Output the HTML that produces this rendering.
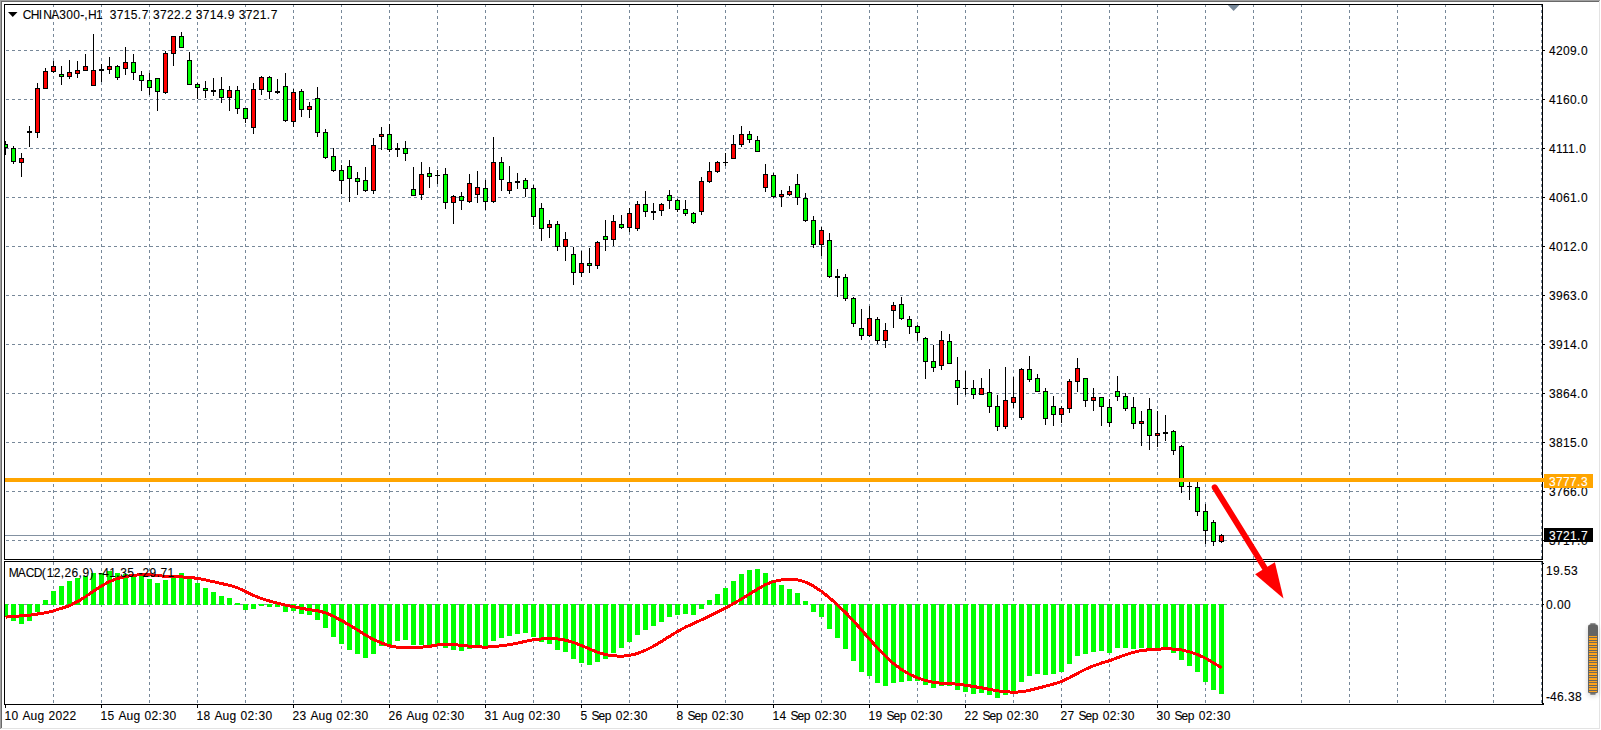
<!DOCTYPE html><html><head><meta charset="utf-8"><title>CHINA300</title><style>
html,body{margin:0;padding:0;background:#fff;}body{width:1601px;height:730px;overflow:hidden;position:relative;font-family:"Liberation Sans",sans-serif;font-size:12px;color:#000;}
svg{position:absolute;left:0;top:0;}
.t{position:absolute;white-space:nowrap;line-height:14px;height:14px;font-size:12px;-webkit-text-stroke:0.1px currentColor;}
.d{letter-spacing:0.5px}.u{letter-spacing:-0.45px}.l{letter-spacing:0px}
</style></head><body>
<svg width="1601" height="730" viewBox="0 0 1601 730">
<rect x="0" y="0" width="1601" height="730" fill="#fff"/>
<g shape-rendering="crispEdges">
<rect x="0" y="0" width="1600" height="1" fill="#a0a0a0"/>
<rect x="0" y="0" width="1" height="729" fill="#a0a0a0"/>
<rect x="1" y="1" width="1598" height="1" fill="#696969"/>
<rect x="1" y="1" width="1" height="727" fill="#696969"/>
<rect x="1599" y="1" width="1" height="728" fill="#e3e3e3"/>
<rect x="1" y="728" width="1599" height="1" fill="#e3e3e3"/>
</g>
<g shape-rendering="crispEdges" stroke="#778899" stroke-width="1" fill="none">
<line x1="53.5" y1="4" x2="53.5" y2="559" stroke-dasharray="3 3"/>
<line x1="53.5" y1="562" x2="53.5" y2="704" stroke-dasharray="3 3"/>
<line x1="101.5" y1="4" x2="101.5" y2="559" stroke-dasharray="3 3"/>
<line x1="101.5" y1="562" x2="101.5" y2="704" stroke-dasharray="3 3"/>
<line x1="149.5" y1="4" x2="149.5" y2="559" stroke-dasharray="3 3"/>
<line x1="149.5" y1="562" x2="149.5" y2="704" stroke-dasharray="3 3"/>
<line x1="197.5" y1="4" x2="197.5" y2="559" stroke-dasharray="3 3"/>
<line x1="197.5" y1="562" x2="197.5" y2="704" stroke-dasharray="3 3"/>
<line x1="245.5" y1="4" x2="245.5" y2="559" stroke-dasharray="3 3"/>
<line x1="245.5" y1="562" x2="245.5" y2="704" stroke-dasharray="3 3"/>
<line x1="293.5" y1="4" x2="293.5" y2="559" stroke-dasharray="3 3"/>
<line x1="293.5" y1="562" x2="293.5" y2="704" stroke-dasharray="3 3"/>
<line x1="341.5" y1="4" x2="341.5" y2="559" stroke-dasharray="3 3"/>
<line x1="341.5" y1="562" x2="341.5" y2="704" stroke-dasharray="3 3"/>
<line x1="389.5" y1="4" x2="389.5" y2="559" stroke-dasharray="3 3"/>
<line x1="389.5" y1="562" x2="389.5" y2="704" stroke-dasharray="3 3"/>
<line x1="437.5" y1="4" x2="437.5" y2="559" stroke-dasharray="3 3"/>
<line x1="437.5" y1="562" x2="437.5" y2="704" stroke-dasharray="3 3"/>
<line x1="485.5" y1="4" x2="485.5" y2="559" stroke-dasharray="3 3"/>
<line x1="485.5" y1="562" x2="485.5" y2="704" stroke-dasharray="3 3"/>
<line x1="533.5" y1="4" x2="533.5" y2="559" stroke-dasharray="3 3"/>
<line x1="533.5" y1="562" x2="533.5" y2="704" stroke-dasharray="3 3"/>
<line x1="581.5" y1="4" x2="581.5" y2="559" stroke-dasharray="3 3"/>
<line x1="581.5" y1="562" x2="581.5" y2="704" stroke-dasharray="3 3"/>
<line x1="629.5" y1="4" x2="629.5" y2="559" stroke-dasharray="3 3"/>
<line x1="629.5" y1="562" x2="629.5" y2="704" stroke-dasharray="3 3"/>
<line x1="677.5" y1="4" x2="677.5" y2="559" stroke-dasharray="3 3"/>
<line x1="677.5" y1="562" x2="677.5" y2="704" stroke-dasharray="3 3"/>
<line x1="725.5" y1="4" x2="725.5" y2="559" stroke-dasharray="3 3"/>
<line x1="725.5" y1="562" x2="725.5" y2="704" stroke-dasharray="3 3"/>
<line x1="773.5" y1="4" x2="773.5" y2="559" stroke-dasharray="3 3"/>
<line x1="773.5" y1="562" x2="773.5" y2="704" stroke-dasharray="3 3"/>
<line x1="821.5" y1="4" x2="821.5" y2="559" stroke-dasharray="3 3"/>
<line x1="821.5" y1="562" x2="821.5" y2="704" stroke-dasharray="3 3"/>
<line x1="869.5" y1="4" x2="869.5" y2="559" stroke-dasharray="3 3"/>
<line x1="869.5" y1="562" x2="869.5" y2="704" stroke-dasharray="3 3"/>
<line x1="917.5" y1="4" x2="917.5" y2="559" stroke-dasharray="3 3"/>
<line x1="917.5" y1="562" x2="917.5" y2="704" stroke-dasharray="3 3"/>
<line x1="965.5" y1="4" x2="965.5" y2="559" stroke-dasharray="3 3"/>
<line x1="965.5" y1="562" x2="965.5" y2="704" stroke-dasharray="3 3"/>
<line x1="1013.5" y1="4" x2="1013.5" y2="559" stroke-dasharray="3 3"/>
<line x1="1013.5" y1="562" x2="1013.5" y2="704" stroke-dasharray="3 3"/>
<line x1="1061.5" y1="4" x2="1061.5" y2="559" stroke-dasharray="3 3"/>
<line x1="1061.5" y1="562" x2="1061.5" y2="704" stroke-dasharray="3 3"/>
<line x1="1109.5" y1="4" x2="1109.5" y2="559" stroke-dasharray="3 3"/>
<line x1="1109.5" y1="562" x2="1109.5" y2="704" stroke-dasharray="3 3"/>
<line x1="1157.5" y1="4" x2="1157.5" y2="559" stroke-dasharray="3 3"/>
<line x1="1157.5" y1="562" x2="1157.5" y2="704" stroke-dasharray="3 3"/>
<line x1="1205.5" y1="4" x2="1205.5" y2="559" stroke-dasharray="3 3"/>
<line x1="1205.5" y1="562" x2="1205.5" y2="704" stroke-dasharray="3 3"/>
<line x1="1253.5" y1="4" x2="1253.5" y2="559" stroke-dasharray="3 3"/>
<line x1="1253.5" y1="562" x2="1253.5" y2="704" stroke-dasharray="3 3"/>
<line x1="1301.5" y1="4" x2="1301.5" y2="559" stroke-dasharray="3 3"/>
<line x1="1301.5" y1="562" x2="1301.5" y2="704" stroke-dasharray="3 3"/>
<line x1="1349.5" y1="4" x2="1349.5" y2="559" stroke-dasharray="3 3"/>
<line x1="1349.5" y1="562" x2="1349.5" y2="704" stroke-dasharray="3 3"/>
<line x1="1397.5" y1="4" x2="1397.5" y2="559" stroke-dasharray="3 3"/>
<line x1="1397.5" y1="562" x2="1397.5" y2="704" stroke-dasharray="3 3"/>
<line x1="1445.5" y1="4" x2="1445.5" y2="559" stroke-dasharray="3 3"/>
<line x1="1445.5" y1="562" x2="1445.5" y2="704" stroke-dasharray="3 3"/>
<line x1="1493.5" y1="4" x2="1493.5" y2="559" stroke-dasharray="3 3"/>
<line x1="1493.5" y1="562" x2="1493.5" y2="704" stroke-dasharray="3 3"/>
<line x1="1541.5" y1="4" x2="1541.5" y2="559" stroke-dasharray="3 3"/>
<line x1="1541.5" y1="562" x2="1541.5" y2="704" stroke-dasharray="3 3"/>
<line x1="6" y1="50.5" x2="1542" y2="50.5" stroke-dasharray="3 3"/>
<line x1="6" y1="99.5" x2="1542" y2="99.5" stroke-dasharray="3 3"/>
<line x1="6" y1="148.5" x2="1542" y2="148.5" stroke-dasharray="3 3"/>
<line x1="6" y1="197.5" x2="1542" y2="197.5" stroke-dasharray="3 3"/>
<line x1="6" y1="246.5" x2="1542" y2="246.5" stroke-dasharray="3 3"/>
<line x1="6" y1="295.5" x2="1542" y2="295.5" stroke-dasharray="3 3"/>
<line x1="6" y1="344.5" x2="1542" y2="344.5" stroke-dasharray="3 3"/>
<line x1="6" y1="393.5" x2="1542" y2="393.5" stroke-dasharray="3 3"/>
<line x1="6" y1="442.5" x2="1542" y2="442.5" stroke-dasharray="3 3"/>
<line x1="6" y1="491.5" x2="1542" y2="491.5" stroke-dasharray="3 3"/>
<line x1="6" y1="540.5" x2="1542" y2="540.5" stroke-dasharray="3 3"/>
<line x1="6" y1="604.5" x2="1542" y2="604.5" stroke-dasharray="3 3"/>
</g>
<rect x="5" y="535" width="1537" height="1" fill="#8391a1" shape-rendering="crispEdges"/>
<defs><clipPath id="c1"><rect x="5" y="5" width="1537" height="554"/></clipPath><clipPath id="c2"><rect x="5" y="562" width="1537" height="142"/></clipPath></defs>
<g shape-rendering="crispEdges" clip-path="url(#c1)">
<rect x="5" y="141" width="1" height="14" fill="#000"/>
<rect x="3" y="144" width="5" height="4" fill="#000"/>
<rect x="4" y="145" width="3" height="2" fill="#00ff00"/>
<rect x="13" y="146" width="1" height="18" fill="#000"/>
<rect x="11" y="148" width="5" height="14" fill="#000"/>
<rect x="12" y="149" width="3" height="12" fill="#00ff00"/>
<rect x="21" y="153" width="1" height="24" fill="#000"/>
<rect x="19" y="158" width="5" height="5" fill="#000"/>
<rect x="20" y="159" width="3" height="3" fill="#ff0000"/>
<rect x="29" y="126" width="1" height="21" fill="#000"/>
<rect x="27" y="131" width="5" height="2" fill="#000"/>
<rect x="37" y="83" width="1" height="55" fill="#000"/>
<rect x="35" y="88" width="5" height="45" fill="#000"/>
<rect x="36" y="89" width="3" height="43" fill="#ff0000"/>
<rect x="45" y="68" width="1" height="21" fill="#000"/>
<rect x="43" y="71" width="5" height="18" fill="#000"/>
<rect x="44" y="72" width="3" height="16" fill="#ff0000"/>
<rect x="53" y="61" width="1" height="12" fill="#000"/>
<rect x="51" y="66" width="5" height="6" fill="#000"/>
<rect x="52" y="67" width="3" height="4" fill="#ff0000"/>
<rect x="61" y="66" width="1" height="19" fill="#000"/>
<rect x="59" y="74" width="5" height="3" fill="#000"/>
<rect x="60" y="75" width="3" height="1" fill="#00ff00"/>
<rect x="69" y="60" width="1" height="19" fill="#000"/>
<rect x="67" y="72" width="5" height="5" fill="#000"/>
<rect x="68" y="73" width="3" height="3" fill="#ff0000"/>
<rect x="77" y="61" width="1" height="17" fill="#000"/>
<rect x="75" y="70" width="5" height="4" fill="#000"/>
<rect x="76" y="71" width="3" height="2" fill="#ff0000"/>
<rect x="85" y="54" width="1" height="17" fill="#000"/>
<rect x="83" y="66" width="5" height="5" fill="#000"/>
<rect x="84" y="67" width="3" height="3" fill="#ff0000"/>
<rect x="93" y="34" width="1" height="52" fill="#000"/>
<rect x="91" y="70" width="5" height="16" fill="#000"/>
<rect x="92" y="71" width="3" height="14" fill="#ff0000"/>
<rect x="101" y="64" width="1" height="18" fill="#000"/>
<rect x="99" y="69" width="5" height="2" fill="#000"/>
<rect x="109" y="57" width="1" height="17" fill="#000"/>
<rect x="107" y="66" width="5" height="4" fill="#000"/>
<rect x="108" y="67" width="3" height="2" fill="#ff0000"/>
<rect x="117" y="65" width="1" height="15" fill="#000"/>
<rect x="115" y="66" width="5" height="12" fill="#000"/>
<rect x="116" y="67" width="3" height="10" fill="#00ff00"/>
<rect x="125" y="47" width="1" height="28" fill="#000"/>
<rect x="123" y="62" width="5" height="7" fill="#000"/>
<rect x="124" y="63" width="3" height="5" fill="#ff0000"/>
<rect x="133" y="54" width="1" height="26" fill="#000"/>
<rect x="131" y="62" width="5" height="11" fill="#000"/>
<rect x="132" y="63" width="3" height="9" fill="#00ff00"/>
<rect x="141" y="71" width="1" height="20" fill="#000"/>
<rect x="139" y="75" width="5" height="6" fill="#000"/>
<rect x="140" y="76" width="3" height="4" fill="#00ff00"/>
<rect x="149" y="73" width="1" height="22" fill="#000"/>
<rect x="147" y="80" width="5" height="8" fill="#000"/>
<rect x="148" y="81" width="3" height="6" fill="#00ff00"/>
<rect x="157" y="78" width="1" height="33" fill="#000"/>
<rect x="155" y="78" width="5" height="14" fill="#000"/>
<rect x="156" y="79" width="3" height="12" fill="#00ff00"/>
<rect x="165" y="51" width="1" height="43" fill="#000"/>
<rect x="163" y="53" width="5" height="40" fill="#000"/>
<rect x="164" y="54" width="3" height="38" fill="#ff0000"/>
<rect x="173" y="36" width="1" height="30" fill="#000"/>
<rect x="171" y="36" width="5" height="18" fill="#000"/>
<rect x="172" y="37" width="3" height="16" fill="#ff0000"/>
<rect x="181" y="32" width="1" height="16" fill="#000"/>
<rect x="179" y="36" width="5" height="12" fill="#000"/>
<rect x="180" y="37" width="3" height="10" fill="#00ff00"/>
<rect x="189" y="52" width="1" height="33" fill="#000"/>
<rect x="187" y="60" width="5" height="25" fill="#000"/>
<rect x="188" y="61" width="3" height="23" fill="#00ff00"/>
<rect x="197" y="83" width="1" height="16" fill="#000"/>
<rect x="195" y="84" width="5" height="4" fill="#000"/>
<rect x="196" y="85" width="3" height="2" fill="#00ff00"/>
<rect x="205" y="81" width="1" height="17" fill="#000"/>
<rect x="203" y="88" width="5" height="3" fill="#000"/>
<rect x="204" y="89" width="3" height="1" fill="#00ff00"/>
<rect x="213" y="78" width="1" height="18" fill="#000"/>
<rect x="211" y="90" width="5" height="2" fill="#000"/>
<rect x="221" y="77" width="1" height="26" fill="#000"/>
<rect x="219" y="89" width="5" height="9" fill="#000"/>
<rect x="220" y="90" width="3" height="7" fill="#00ff00"/>
<rect x="229" y="86" width="1" height="25" fill="#000"/>
<rect x="227" y="90" width="5" height="8" fill="#000"/>
<rect x="228" y="91" width="3" height="6" fill="#ff0000"/>
<rect x="237" y="86" width="1" height="28" fill="#000"/>
<rect x="235" y="90" width="5" height="19" fill="#000"/>
<rect x="236" y="91" width="3" height="17" fill="#00ff00"/>
<rect x="245" y="108" width="1" height="15" fill="#000"/>
<rect x="243" y="108" width="5" height="11" fill="#000"/>
<rect x="244" y="109" width="3" height="9" fill="#00ff00"/>
<rect x="253" y="83" width="1" height="51" fill="#000"/>
<rect x="251" y="89" width="5" height="39" fill="#000"/>
<rect x="252" y="90" width="3" height="37" fill="#ff0000"/>
<rect x="261" y="76" width="1" height="19" fill="#000"/>
<rect x="259" y="77" width="5" height="13" fill="#000"/>
<rect x="260" y="78" width="3" height="11" fill="#ff0000"/>
<rect x="269" y="76" width="1" height="23" fill="#000"/>
<rect x="267" y="77" width="5" height="15" fill="#000"/>
<rect x="268" y="78" width="3" height="13" fill="#00ff00"/>
<rect x="277" y="79" width="1" height="15" fill="#000"/>
<rect x="275" y="91" width="5" height="2" fill="#000"/>
<rect x="285" y="73" width="1" height="49" fill="#000"/>
<rect x="283" y="86" width="5" height="35" fill="#000"/>
<rect x="284" y="87" width="3" height="33" fill="#00ff00"/>
<rect x="293" y="89" width="1" height="38" fill="#000"/>
<rect x="291" y="92" width="5" height="30" fill="#000"/>
<rect x="292" y="93" width="3" height="28" fill="#ff0000"/>
<rect x="301" y="89" width="1" height="28" fill="#000"/>
<rect x="299" y="91" width="5" height="19" fill="#000"/>
<rect x="300" y="92" width="3" height="17" fill="#00ff00"/>
<rect x="309" y="102" width="1" height="16" fill="#000"/>
<rect x="307" y="106" width="5" height="4" fill="#000"/>
<rect x="308" y="107" width="3" height="2" fill="#ff0000"/>
<rect x="317" y="87" width="1" height="50" fill="#000"/>
<rect x="315" y="98" width="5" height="35" fill="#000"/>
<rect x="316" y="99" width="3" height="33" fill="#00ff00"/>
<rect x="325" y="129" width="1" height="30" fill="#000"/>
<rect x="323" y="132" width="5" height="26" fill="#000"/>
<rect x="324" y="133" width="3" height="24" fill="#00ff00"/>
<rect x="333" y="148" width="1" height="24" fill="#000"/>
<rect x="331" y="156" width="5" height="15" fill="#000"/>
<rect x="332" y="157" width="3" height="13" fill="#00ff00"/>
<rect x="341" y="165" width="1" height="29" fill="#000"/>
<rect x="339" y="170" width="5" height="11" fill="#000"/>
<rect x="340" y="171" width="3" height="9" fill="#00ff00"/>
<rect x="349" y="160" width="1" height="42" fill="#000"/>
<rect x="347" y="166" width="5" height="13" fill="#000"/>
<rect x="348" y="167" width="3" height="11" fill="#00ff00"/>
<rect x="357" y="172" width="1" height="23" fill="#000"/>
<rect x="355" y="178" width="5" height="4" fill="#000"/>
<rect x="356" y="179" width="3" height="2" fill="#00ff00"/>
<rect x="365" y="167" width="1" height="25" fill="#000"/>
<rect x="363" y="180" width="5" height="11" fill="#000"/>
<rect x="364" y="181" width="3" height="9" fill="#00ff00"/>
<rect x="373" y="138" width="1" height="56" fill="#000"/>
<rect x="371" y="145" width="5" height="46" fill="#000"/>
<rect x="372" y="146" width="3" height="44" fill="#ff0000"/>
<rect x="381" y="127" width="1" height="23" fill="#000"/>
<rect x="379" y="134" width="5" height="3" fill="#000"/>
<rect x="380" y="135" width="3" height="1" fill="#ff0000"/>
<rect x="389" y="124" width="1" height="28" fill="#000"/>
<rect x="387" y="134" width="5" height="16" fill="#000"/>
<rect x="388" y="135" width="3" height="14" fill="#00ff00"/>
<rect x="397" y="143" width="1" height="14" fill="#000"/>
<rect x="395" y="148" width="5" height="2" fill="#000"/>
<rect x="405" y="141" width="1" height="20" fill="#000"/>
<rect x="403" y="148" width="5" height="6" fill="#000"/>
<rect x="404" y="149" width="3" height="4" fill="#00ff00"/>
<rect x="413" y="167" width="1" height="29" fill="#000"/>
<rect x="411" y="189" width="5" height="7" fill="#000"/>
<rect x="412" y="190" width="3" height="5" fill="#00ff00"/>
<rect x="421" y="162" width="1" height="38" fill="#000"/>
<rect x="419" y="174" width="5" height="21" fill="#000"/>
<rect x="420" y="175" width="3" height="19" fill="#ff0000"/>
<rect x="429" y="167" width="1" height="21" fill="#000"/>
<rect x="427" y="173" width="5" height="4" fill="#000"/>
<rect x="428" y="174" width="3" height="2" fill="#00ff00"/>
<rect x="437" y="170" width="1" height="14" fill="#000"/>
<rect x="435" y="175" width="5" height="1" fill="#000"/>
<rect x="445" y="168" width="1" height="41" fill="#000"/>
<rect x="443" y="174" width="5" height="29" fill="#000"/>
<rect x="444" y="175" width="3" height="27" fill="#00ff00"/>
<rect x="453" y="195" width="1" height="29" fill="#000"/>
<rect x="451" y="196" width="5" height="7" fill="#000"/>
<rect x="452" y="197" width="3" height="5" fill="#ff0000"/>
<rect x="461" y="192" width="1" height="18" fill="#000"/>
<rect x="459" y="196" width="5" height="5" fill="#000"/>
<rect x="460" y="197" width="3" height="3" fill="#00ff00"/>
<rect x="469" y="174" width="1" height="29" fill="#000"/>
<rect x="467" y="183" width="5" height="19" fill="#000"/>
<rect x="468" y="184" width="3" height="17" fill="#ff0000"/>
<rect x="477" y="171" width="1" height="32" fill="#000"/>
<rect x="475" y="187" width="5" height="8" fill="#000"/>
<rect x="476" y="188" width="3" height="6" fill="#ff0000"/>
<rect x="485" y="180" width="1" height="30" fill="#000"/>
<rect x="483" y="188" width="5" height="14" fill="#000"/>
<rect x="484" y="189" width="3" height="12" fill="#00ff00"/>
<rect x="493" y="137" width="1" height="66" fill="#000"/>
<rect x="491" y="162" width="5" height="40" fill="#000"/>
<rect x="492" y="163" width="3" height="38" fill="#ff0000"/>
<rect x="501" y="157" width="1" height="34" fill="#000"/>
<rect x="499" y="162" width="5" height="18" fill="#000"/>
<rect x="500" y="163" width="3" height="16" fill="#00ff00"/>
<rect x="509" y="166" width="1" height="28" fill="#000"/>
<rect x="507" y="182" width="5" height="9" fill="#000"/>
<rect x="508" y="183" width="3" height="7" fill="#ff0000"/>
<rect x="517" y="173" width="1" height="16" fill="#000"/>
<rect x="515" y="181" width="5" height="2" fill="#000"/>
<rect x="525" y="178" width="1" height="19" fill="#000"/>
<rect x="523" y="180" width="5" height="9" fill="#000"/>
<rect x="524" y="181" width="3" height="7" fill="#00ff00"/>
<rect x="533" y="185" width="1" height="40" fill="#000"/>
<rect x="531" y="188" width="5" height="29" fill="#000"/>
<rect x="532" y="189" width="3" height="27" fill="#00ff00"/>
<rect x="541" y="203" width="1" height="38" fill="#000"/>
<rect x="539" y="208" width="5" height="21" fill="#000"/>
<rect x="540" y="209" width="3" height="19" fill="#00ff00"/>
<rect x="549" y="220" width="1" height="18" fill="#000"/>
<rect x="547" y="224" width="5" height="4" fill="#000"/>
<rect x="548" y="225" width="3" height="2" fill="#ff0000"/>
<rect x="557" y="221" width="1" height="30" fill="#000"/>
<rect x="555" y="224" width="5" height="23" fill="#000"/>
<rect x="556" y="225" width="3" height="21" fill="#00ff00"/>
<rect x="565" y="232" width="1" height="29" fill="#000"/>
<rect x="563" y="239" width="5" height="8" fill="#000"/>
<rect x="564" y="240" width="3" height="6" fill="#ff0000"/>
<rect x="573" y="247" width="1" height="38" fill="#000"/>
<rect x="571" y="254" width="5" height="19" fill="#000"/>
<rect x="572" y="255" width="3" height="17" fill="#00ff00"/>
<rect x="581" y="251" width="1" height="26" fill="#000"/>
<rect x="579" y="263" width="5" height="10" fill="#000"/>
<rect x="580" y="264" width="3" height="8" fill="#ff0000"/>
<rect x="589" y="248" width="1" height="25" fill="#000"/>
<rect x="587" y="263" width="5" height="3" fill="#000"/>
<rect x="588" y="264" width="3" height="1" fill="#00ff00"/>
<rect x="597" y="241" width="1" height="28" fill="#000"/>
<rect x="595" y="242" width="5" height="24" fill="#000"/>
<rect x="596" y="243" width="3" height="22" fill="#ff0000"/>
<rect x="605" y="220" width="1" height="31" fill="#000"/>
<rect x="603" y="236" width="5" height="4" fill="#000"/>
<rect x="604" y="237" width="3" height="2" fill="#00ff00"/>
<rect x="613" y="215" width="1" height="31" fill="#000"/>
<rect x="611" y="221" width="5" height="19" fill="#000"/>
<rect x="612" y="222" width="3" height="17" fill="#ff0000"/>
<rect x="621" y="215" width="1" height="14" fill="#000"/>
<rect x="619" y="224" width="5" height="4" fill="#000"/>
<rect x="620" y="225" width="3" height="2" fill="#00ff00"/>
<rect x="629" y="208" width="1" height="24" fill="#000"/>
<rect x="627" y="213" width="5" height="15" fill="#000"/>
<rect x="628" y="214" width="3" height="13" fill="#ff0000"/>
<rect x="637" y="201" width="1" height="30" fill="#000"/>
<rect x="635" y="204" width="5" height="25" fill="#000"/>
<rect x="636" y="205" width="3" height="23" fill="#ff0000"/>
<rect x="645" y="191" width="1" height="26" fill="#000"/>
<rect x="643" y="204" width="5" height="8" fill="#000"/>
<rect x="644" y="205" width="3" height="6" fill="#00ff00"/>
<rect x="653" y="203" width="1" height="17" fill="#000"/>
<rect x="651" y="211" width="5" height="2" fill="#000"/>
<rect x="661" y="203" width="1" height="13" fill="#000"/>
<rect x="659" y="204" width="5" height="7" fill="#000"/>
<rect x="660" y="205" width="3" height="5" fill="#ff0000"/>
<rect x="669" y="190" width="1" height="19" fill="#000"/>
<rect x="667" y="195" width="5" height="6" fill="#000"/>
<rect x="668" y="196" width="3" height="4" fill="#00ff00"/>
<rect x="677" y="199" width="1" height="13" fill="#000"/>
<rect x="675" y="200" width="5" height="10" fill="#000"/>
<rect x="676" y="201" width="3" height="8" fill="#00ff00"/>
<rect x="685" y="200" width="1" height="16" fill="#000"/>
<rect x="683" y="209" width="5" height="5" fill="#000"/>
<rect x="684" y="210" width="3" height="3" fill="#00ff00"/>
<rect x="693" y="212" width="1" height="12" fill="#000"/>
<rect x="691" y="213" width="5" height="10" fill="#000"/>
<rect x="692" y="214" width="3" height="8" fill="#00ff00"/>
<rect x="701" y="177" width="1" height="38" fill="#000"/>
<rect x="699" y="181" width="5" height="31" fill="#000"/>
<rect x="700" y="182" width="3" height="29" fill="#ff0000"/>
<rect x="709" y="162" width="1" height="21" fill="#000"/>
<rect x="707" y="171" width="5" height="11" fill="#000"/>
<rect x="708" y="172" width="3" height="9" fill="#ff0000"/>
<rect x="717" y="161" width="1" height="12" fill="#000"/>
<rect x="715" y="162" width="5" height="10" fill="#000"/>
<rect x="716" y="163" width="3" height="8" fill="#ff0000"/>
<rect x="725" y="153" width="1" height="13" fill="#000"/>
<rect x="723" y="162" width="5" height="1" fill="#000"/>
<rect x="733" y="135" width="1" height="24" fill="#000"/>
<rect x="731" y="144" width="5" height="15" fill="#000"/>
<rect x="732" y="145" width="3" height="13" fill="#ff0000"/>
<rect x="741" y="126" width="1" height="21" fill="#000"/>
<rect x="739" y="134" width="5" height="11" fill="#000"/>
<rect x="740" y="135" width="3" height="9" fill="#ff0000"/>
<rect x="749" y="131" width="1" height="12" fill="#000"/>
<rect x="747" y="134" width="5" height="6" fill="#000"/>
<rect x="748" y="135" width="3" height="4" fill="#00ff00"/>
<rect x="757" y="136" width="1" height="16" fill="#000"/>
<rect x="755" y="140" width="5" height="12" fill="#000"/>
<rect x="756" y="141" width="3" height="10" fill="#00ff00"/>
<rect x="765" y="164" width="1" height="28" fill="#000"/>
<rect x="763" y="174" width="5" height="14" fill="#000"/>
<rect x="764" y="175" width="3" height="12" fill="#ff0000"/>
<rect x="773" y="173" width="1" height="25" fill="#000"/>
<rect x="771" y="175" width="5" height="22" fill="#000"/>
<rect x="772" y="176" width="3" height="20" fill="#00ff00"/>
<rect x="781" y="190" width="1" height="17" fill="#000"/>
<rect x="779" y="194" width="5" height="3" fill="#000"/>
<rect x="780" y="195" width="3" height="1" fill="#ff0000"/>
<rect x="789" y="186" width="1" height="10" fill="#000"/>
<rect x="787" y="191" width="5" height="4" fill="#000"/>
<rect x="788" y="192" width="3" height="2" fill="#ff0000"/>
<rect x="797" y="174" width="1" height="31" fill="#000"/>
<rect x="795" y="184" width="5" height="14" fill="#000"/>
<rect x="796" y="185" width="3" height="12" fill="#00ff00"/>
<rect x="805" y="193" width="1" height="29" fill="#000"/>
<rect x="803" y="198" width="5" height="23" fill="#000"/>
<rect x="804" y="199" width="3" height="21" fill="#00ff00"/>
<rect x="813" y="216" width="1" height="32" fill="#000"/>
<rect x="811" y="220" width="5" height="25" fill="#000"/>
<rect x="812" y="221" width="3" height="23" fill="#00ff00"/>
<rect x="821" y="227" width="1" height="29" fill="#000"/>
<rect x="819" y="230" width="5" height="15" fill="#000"/>
<rect x="820" y="231" width="3" height="13" fill="#ff0000"/>
<rect x="829" y="233" width="1" height="45" fill="#000"/>
<rect x="827" y="240" width="5" height="37" fill="#000"/>
<rect x="828" y="241" width="3" height="35" fill="#00ff00"/>
<rect x="837" y="269" width="1" height="28" fill="#000"/>
<rect x="835" y="276" width="5" height="2" fill="#000"/>
<rect x="845" y="274" width="1" height="27" fill="#000"/>
<rect x="843" y="277" width="5" height="22" fill="#000"/>
<rect x="844" y="278" width="3" height="20" fill="#00ff00"/>
<rect x="853" y="297" width="1" height="30" fill="#000"/>
<rect x="851" y="298" width="5" height="26" fill="#000"/>
<rect x="852" y="299" width="3" height="24" fill="#00ff00"/>
<rect x="861" y="309" width="1" height="31" fill="#000"/>
<rect x="859" y="328" width="5" height="8" fill="#000"/>
<rect x="860" y="329" width="3" height="6" fill="#00ff00"/>
<rect x="869" y="306" width="1" height="31" fill="#000"/>
<rect x="867" y="318" width="5" height="18" fill="#000"/>
<rect x="868" y="319" width="3" height="16" fill="#ff0000"/>
<rect x="877" y="317" width="1" height="27" fill="#000"/>
<rect x="875" y="319" width="5" height="22" fill="#000"/>
<rect x="876" y="320" width="3" height="20" fill="#00ff00"/>
<rect x="885" y="323" width="1" height="25" fill="#000"/>
<rect x="883" y="330" width="5" height="11" fill="#000"/>
<rect x="884" y="331" width="3" height="9" fill="#ff0000"/>
<rect x="893" y="302" width="1" height="26" fill="#000"/>
<rect x="891" y="305" width="5" height="6" fill="#000"/>
<rect x="892" y="306" width="3" height="4" fill="#ff0000"/>
<rect x="901" y="297" width="1" height="23" fill="#000"/>
<rect x="899" y="304" width="5" height="15" fill="#000"/>
<rect x="900" y="305" width="3" height="13" fill="#00ff00"/>
<rect x="909" y="316" width="1" height="18" fill="#000"/>
<rect x="907" y="319" width="5" height="8" fill="#000"/>
<rect x="908" y="320" width="3" height="6" fill="#00ff00"/>
<rect x="917" y="325" width="1" height="16" fill="#000"/>
<rect x="915" y="326" width="5" height="7" fill="#000"/>
<rect x="916" y="327" width="3" height="5" fill="#00ff00"/>
<rect x="925" y="337" width="1" height="42" fill="#000"/>
<rect x="923" y="338" width="5" height="24" fill="#000"/>
<rect x="924" y="339" width="3" height="22" fill="#00ff00"/>
<rect x="933" y="345" width="1" height="27" fill="#000"/>
<rect x="931" y="361" width="5" height="7" fill="#000"/>
<rect x="932" y="362" width="3" height="5" fill="#00ff00"/>
<rect x="941" y="331" width="1" height="39" fill="#000"/>
<rect x="939" y="340" width="5" height="26" fill="#000"/>
<rect x="940" y="341" width="3" height="24" fill="#ff0000"/>
<rect x="949" y="334" width="1" height="30" fill="#000"/>
<rect x="947" y="341" width="5" height="23" fill="#000"/>
<rect x="948" y="342" width="3" height="21" fill="#00ff00"/>
<rect x="957" y="357" width="1" height="48" fill="#000"/>
<rect x="955" y="380" width="5" height="8" fill="#000"/>
<rect x="956" y="381" width="3" height="6" fill="#00ff00"/>
<rect x="965" y="371" width="1" height="24" fill="#000"/>
<rect x="963" y="388" width="5" height="1" fill="#000"/>
<rect x="973" y="380" width="1" height="19" fill="#000"/>
<rect x="971" y="388" width="5" height="7" fill="#000"/>
<rect x="972" y="389" width="3" height="5" fill="#00ff00"/>
<rect x="981" y="378" width="1" height="17" fill="#000"/>
<rect x="979" y="388" width="5" height="7" fill="#000"/>
<rect x="980" y="389" width="3" height="5" fill="#ff0000"/>
<rect x="989" y="369" width="1" height="44" fill="#000"/>
<rect x="987" y="392" width="5" height="15" fill="#000"/>
<rect x="988" y="393" width="3" height="13" fill="#00ff00"/>
<rect x="997" y="395" width="1" height="36" fill="#000"/>
<rect x="995" y="406" width="5" height="21" fill="#000"/>
<rect x="996" y="407" width="3" height="19" fill="#00ff00"/>
<rect x="1005" y="367" width="1" height="62" fill="#000"/>
<rect x="1003" y="400" width="5" height="27" fill="#000"/>
<rect x="1004" y="401" width="3" height="25" fill="#ff0000"/>
<rect x="1013" y="377" width="1" height="31" fill="#000"/>
<rect x="1011" y="397" width="5" height="6" fill="#000"/>
<rect x="1012" y="398" width="3" height="4" fill="#ff0000"/>
<rect x="1021" y="368" width="1" height="52" fill="#000"/>
<rect x="1019" y="369" width="5" height="49" fill="#000"/>
<rect x="1020" y="370" width="3" height="47" fill="#ff0000"/>
<rect x="1029" y="356" width="1" height="26" fill="#000"/>
<rect x="1027" y="369" width="5" height="11" fill="#000"/>
<rect x="1028" y="370" width="3" height="9" fill="#00ff00"/>
<rect x="1037" y="374" width="1" height="18" fill="#000"/>
<rect x="1035" y="378" width="5" height="14" fill="#000"/>
<rect x="1036" y="379" width="3" height="12" fill="#00ff00"/>
<rect x="1045" y="388" width="1" height="37" fill="#000"/>
<rect x="1043" y="391" width="5" height="28" fill="#000"/>
<rect x="1044" y="392" width="3" height="26" fill="#00ff00"/>
<rect x="1053" y="396" width="1" height="30" fill="#000"/>
<rect x="1051" y="406" width="5" height="9" fill="#000"/>
<rect x="1052" y="407" width="3" height="7" fill="#00ff00"/>
<rect x="1061" y="406" width="1" height="17" fill="#000"/>
<rect x="1059" y="408" width="5" height="7" fill="#000"/>
<rect x="1060" y="409" width="3" height="5" fill="#ff0000"/>
<rect x="1069" y="379" width="1" height="34" fill="#000"/>
<rect x="1067" y="381" width="5" height="28" fill="#000"/>
<rect x="1068" y="382" width="3" height="26" fill="#ff0000"/>
<rect x="1077" y="358" width="1" height="34" fill="#000"/>
<rect x="1075" y="368" width="5" height="14" fill="#000"/>
<rect x="1076" y="369" width="3" height="12" fill="#ff0000"/>
<rect x="1085" y="378" width="1" height="29" fill="#000"/>
<rect x="1083" y="378" width="5" height="23" fill="#000"/>
<rect x="1084" y="379" width="3" height="21" fill="#00ff00"/>
<rect x="1093" y="388" width="1" height="23" fill="#000"/>
<rect x="1091" y="397" width="5" height="4" fill="#000"/>
<rect x="1092" y="398" width="3" height="2" fill="#ff0000"/>
<rect x="1101" y="397" width="1" height="29" fill="#000"/>
<rect x="1099" y="397" width="5" height="10" fill="#000"/>
<rect x="1100" y="398" width="3" height="8" fill="#00ff00"/>
<rect x="1109" y="399" width="1" height="28" fill="#000"/>
<rect x="1107" y="407" width="5" height="16" fill="#000"/>
<rect x="1108" y="408" width="3" height="14" fill="#00ff00"/>
<rect x="1117" y="376" width="1" height="25" fill="#000"/>
<rect x="1115" y="391" width="5" height="6" fill="#000"/>
<rect x="1116" y="392" width="3" height="4" fill="#00ff00"/>
<rect x="1125" y="393" width="1" height="18" fill="#000"/>
<rect x="1123" y="396" width="5" height="13" fill="#000"/>
<rect x="1124" y="397" width="3" height="11" fill="#00ff00"/>
<rect x="1133" y="397" width="1" height="32" fill="#000"/>
<rect x="1131" y="407" width="5" height="17" fill="#000"/>
<rect x="1132" y="408" width="3" height="15" fill="#00ff00"/>
<rect x="1141" y="411" width="1" height="35" fill="#000"/>
<rect x="1139" y="421" width="5" height="3" fill="#000"/>
<rect x="1140" y="422" width="3" height="1" fill="#ff0000"/>
<rect x="1149" y="398" width="1" height="52" fill="#000"/>
<rect x="1147" y="409" width="5" height="27" fill="#000"/>
<rect x="1148" y="410" width="3" height="25" fill="#00ff00"/>
<rect x="1157" y="411" width="1" height="36" fill="#000"/>
<rect x="1155" y="433" width="5" height="3" fill="#000"/>
<rect x="1156" y="434" width="3" height="1" fill="#ff0000"/>
<rect x="1165" y="415" width="1" height="26" fill="#000"/>
<rect x="1163" y="432" width="5" height="2" fill="#000"/>
<rect x="1173" y="430" width="1" height="25" fill="#000"/>
<rect x="1171" y="431" width="5" height="20" fill="#000"/>
<rect x="1172" y="432" width="3" height="18" fill="#00ff00"/>
<rect x="1181" y="445" width="1" height="48" fill="#000"/>
<rect x="1179" y="446" width="5" height="41" fill="#000"/>
<rect x="1180" y="447" width="3" height="39" fill="#00ff00"/>
<rect x="1189" y="480" width="1" height="20" fill="#000"/>
<rect x="1187" y="486" width="5" height="1" fill="#000"/>
<rect x="1197" y="480" width="1" height="36" fill="#000"/>
<rect x="1195" y="487" width="5" height="25" fill="#000"/>
<rect x="1196" y="488" width="3" height="23" fill="#00ff00"/>
<rect x="1205" y="504" width="1" height="40" fill="#000"/>
<rect x="1203" y="511" width="5" height="20" fill="#000"/>
<rect x="1204" y="512" width="3" height="18" fill="#00ff00"/>
<rect x="1213" y="520" width="1" height="26" fill="#000"/>
<rect x="1211" y="522" width="5" height="20" fill="#000"/>
<rect x="1212" y="523" width="3" height="18" fill="#00ff00"/>
<rect x="1221" y="534" width="1" height="9" fill="#000"/>
<rect x="1219" y="535" width="5" height="7" fill="#000"/>
<rect x="1220" y="536" width="3" height="5" fill="#ff0000"/>
</g>
<g shape-rendering="crispEdges" clip-path="url(#c2)" fill="#00ff00">
<rect x="3" y="604" width="5" height="12"/>
<rect x="11" y="604" width="5" height="17"/>
<rect x="19" y="604" width="5" height="20"/>
<rect x="27" y="604" width="5" height="17"/>
<rect x="35" y="604" width="5" height="8"/>
<rect x="43" y="600" width="5" height="5"/>
<rect x="51" y="591" width="5" height="14"/>
<rect x="59" y="586" width="5" height="19"/>
<rect x="67" y="581" width="5" height="24"/>
<rect x="75" y="578" width="5" height="27"/>
<rect x="83" y="576" width="5" height="29"/>
<rect x="91" y="573" width="5" height="32"/>
<rect x="99" y="573" width="5" height="32"/>
<rect x="107" y="571" width="5" height="34"/>
<rect x="115" y="573" width="5" height="32"/>
<rect x="123" y="574" width="5" height="31"/>
<rect x="131" y="574" width="5" height="31"/>
<rect x="139" y="576" width="5" height="29"/>
<rect x="147" y="579" width="5" height="26"/>
<rect x="155" y="583" width="5" height="22"/>
<rect x="163" y="580" width="5" height="25"/>
<rect x="171" y="576" width="5" height="29"/>
<rect x="179" y="573" width="5" height="32"/>
<rect x="187" y="577" width="5" height="28"/>
<rect x="195" y="583" width="5" height="22"/>
<rect x="203" y="588" width="5" height="17"/>
<rect x="211" y="592" width="5" height="13"/>
<rect x="219" y="596" width="5" height="9"/>
<rect x="227" y="598" width="5" height="7"/>
<rect x="235" y="603" width="5" height="2"/>
<rect x="243" y="604" width="5" height="6"/>
<rect x="251" y="604" width="5" height="5"/>
<rect x="259" y="604" width="5" height="2"/>
<rect x="267" y="604" width="5" height="3"/>
<rect x="275" y="604" width="5" height="3"/>
<rect x="283" y="604" width="5" height="8"/>
<rect x="291" y="604" width="5" height="7"/>
<rect x="299" y="604" width="5" height="10"/>
<rect x="307" y="604" width="5" height="11"/>
<rect x="315" y="604" width="5" height="16"/>
<rect x="323" y="604" width="5" height="24"/>
<rect x="331" y="604" width="5" height="33"/>
<rect x="339" y="604" width="5" height="40"/>
<rect x="347" y="604" width="5" height="46"/>
<rect x="355" y="604" width="5" height="50"/>
<rect x="363" y="604" width="5" height="54"/>
<rect x="371" y="604" width="5" height="50"/>
<rect x="379" y="604" width="5" height="42"/>
<rect x="387" y="604" width="5" height="42"/>
<rect x="395" y="604" width="5" height="37"/>
<rect x="403" y="604" width="5" height="36"/>
<rect x="411" y="604" width="5" height="41"/>
<rect x="419" y="604" width="5" height="41"/>
<rect x="427" y="604" width="5" height="43"/>
<rect x="435" y="604" width="5" height="41"/>
<rect x="443" y="604" width="5" height="44"/>
<rect x="451" y="604" width="5" height="46"/>
<rect x="459" y="604" width="5" height="47"/>
<rect x="467" y="604" width="5" height="45"/>
<rect x="475" y="604" width="5" height="42"/>
<rect x="483" y="604" width="5" height="44"/>
<rect x="491" y="604" width="5" height="37"/>
<rect x="499" y="604" width="5" height="34"/>
<rect x="507" y="604" width="5" height="32"/>
<rect x="515" y="604" width="5" height="30"/>
<rect x="523" y="604" width="5" height="29"/>
<rect x="531" y="604" width="5" height="33"/>
<rect x="539" y="604" width="5" height="38"/>
<rect x="547" y="604" width="5" height="40"/>
<rect x="555" y="604" width="5" height="46"/>
<rect x="563" y="604" width="5" height="48"/>
<rect x="571" y="604" width="5" height="55"/>
<rect x="579" y="604" width="5" height="59"/>
<rect x="587" y="604" width="5" height="61"/>
<rect x="595" y="604" width="5" height="58"/>
<rect x="603" y="604" width="5" height="55"/>
<rect x="611" y="604" width="5" height="49"/>
<rect x="619" y="604" width="5" height="44"/>
<rect x="627" y="604" width="5" height="38"/>
<rect x="635" y="604" width="5" height="31"/>
<rect x="643" y="604" width="5" height="26"/>
<rect x="651" y="604" width="5" height="22"/>
<rect x="659" y="604" width="5" height="18"/>
<rect x="667" y="604" width="5" height="13"/>
<rect x="675" y="604" width="5" height="11"/>
<rect x="683" y="604" width="5" height="10"/>
<rect x="691" y="604" width="5" height="11"/>
<rect x="699" y="604" width="5" height="5"/>
<rect x="707" y="600" width="5" height="5"/>
<rect x="715" y="594" width="5" height="11"/>
<rect x="723" y="588" width="5" height="17"/>
<rect x="731" y="581" width="5" height="24"/>
<rect x="739" y="574" width="5" height="31"/>
<rect x="747" y="570" width="5" height="35"/>
<rect x="755" y="569" width="5" height="36"/>
<rect x="763" y="573" width="5" height="32"/>
<rect x="771" y="580" width="5" height="25"/>
<rect x="779" y="585" width="5" height="20"/>
<rect x="787" y="589" width="5" height="16"/>
<rect x="795" y="593" width="5" height="12"/>
<rect x="803" y="601" width="5" height="4"/>
<rect x="811" y="604" width="5" height="8"/>
<rect x="819" y="604" width="5" height="13"/>
<rect x="827" y="604" width="5" height="25"/>
<rect x="835" y="604" width="5" height="34"/>
<rect x="843" y="604" width="5" height="45"/>
<rect x="851" y="604" width="5" height="57"/>
<rect x="859" y="604" width="5" height="68"/>
<rect x="867" y="604" width="5" height="72"/>
<rect x="875" y="604" width="5" height="79"/>
<rect x="883" y="604" width="5" height="82"/>
<rect x="891" y="604" width="5" height="79"/>
<rect x="899" y="604" width="5" height="78"/>
<rect x="907" y="604" width="5" height="77"/>
<rect x="915" y="604" width="5" height="77"/>
<rect x="923" y="604" width="5" height="81"/>
<rect x="931" y="604" width="5" height="84"/>
<rect x="939" y="604" width="5" height="82"/>
<rect x="947" y="604" width="5" height="82"/>
<rect x="955" y="604" width="5" height="86"/>
<rect x="963" y="604" width="5" height="88"/>
<rect x="971" y="604" width="5" height="90"/>
<rect x="979" y="604" width="5" height="89"/>
<rect x="987" y="604" width="5" height="91"/>
<rect x="995" y="604" width="5" height="94"/>
<rect x="1003" y="604" width="5" height="91"/>
<rect x="1011" y="604" width="5" height="88"/>
<rect x="1019" y="604" width="5" height="78"/>
<rect x="1027" y="604" width="5" height="72"/>
<rect x="1035" y="604" width="5" height="70"/>
<rect x="1043" y="604" width="5" height="71"/>
<rect x="1051" y="604" width="5" height="70"/>
<rect x="1059" y="604" width="5" height="68"/>
<rect x="1067" y="604" width="5" height="60"/>
<rect x="1075" y="604" width="5" height="52"/>
<rect x="1083" y="604" width="5" height="50"/>
<rect x="1091" y="604" width="5" height="48"/>
<rect x="1099" y="604" width="5" height="47"/>
<rect x="1107" y="604" width="5" height="49"/>
<rect x="1115" y="604" width="5" height="44"/>
<rect x="1123" y="604" width="5" height="44"/>
<rect x="1131" y="604" width="5" height="45"/>
<rect x="1139" y="604" width="5" height="44"/>
<rect x="1147" y="604" width="5" height="45"/>
<rect x="1155" y="604" width="5" height="45"/>
<rect x="1163" y="604" width="5" height="45"/>
<rect x="1171" y="604" width="5" height="49"/>
<rect x="1179" y="604" width="5" height="56"/>
<rect x="1187" y="604" width="5" height="62"/>
<rect x="1195" y="604" width="5" height="68"/>
<rect x="1203" y="604" width="5" height="78"/>
<rect x="1211" y="604" width="5" height="86"/>
<rect x="1219" y="604" width="5" height="90"/>
</g>
<polyline points="5.5,617.10 13.5,616.47 21.5,615.83 29.5,615.20 37.5,614.00 45.5,612.81 53.5,610.83 61.5,608.27 69.5,605.72 77.5,601.61 85.5,596.72 93.5,591.17 101.5,585.94 109.5,581.50 117.5,578.50 125.5,576.61 133.5,575.28 141.5,574.72 149.5,574.83 157.5,575.61 165.5,576.39 173.5,576.72 181.5,576.94 189.5,577.39 197.5,578.39 205.5,579.94 213.5,581.72 221.5,583.61 229.5,585.28 237.5,587.83 245.5,591.50 253.5,595.39 261.5,598.50 269.5,601.06 277.5,603.06 285.5,605.17 293.5,606.72 301.5,608.39 309.5,609.61 317.5,610.72 325.5,612.83 333.5,616.28 341.5,620.39 349.5,625.17 357.5,629.83 365.5,635.06 373.5,639.50 381.5,642.94 389.5,645.83 397.5,647.28 405.5,647.61 413.5,647.72 421.5,647.17 429.5,646.39 437.5,644.94 445.5,644.28 453.5,644.72 461.5,645.28 469.5,646.17 477.5,646.83 485.5,647.17 493.5,646.72 501.5,645.72 509.5,644.72 517.5,643.17 525.5,641.28 533.5,639.72 541.5,638.94 549.5,638.72 557.5,638.94 565.5,640.17 573.5,642.50 581.5,645.50 589.5,648.94 597.5,652.17 605.5,654.61 613.5,655.83 621.5,656.28 629.5,655.39 637.5,653.50 645.5,650.28 653.5,646.17 661.5,641.39 669.5,636.39 677.5,631.50 685.5,627.17 693.5,623.50 701.5,619.83 709.5,616.06 717.5,612.17 725.5,608.06 733.5,603.61 741.5,598.94 749.5,594.06 757.5,589.17 765.5,584.61 773.5,581.50 781.5,579.83 789.5,579.28 797.5,579.83 805.5,582.06 813.5,586.17 821.5,591.28 829.5,597.83 837.5,604.94 845.5,612.50 853.5,620.83 861.5,629.94 869.5,639.06 877.5,648.06 885.5,656.28 893.5,663.61 901.5,669.50 909.5,674.28 917.5,677.83 925.5,680.50 933.5,682.28 941.5,683.39 949.5,683.72 957.5,684.17 965.5,685.17 973.5,686.50 981.5,687.83 989.5,689.39 997.5,690.83 1005.5,691.61 1013.5,692.28 1021.5,691.83 1029.5,690.28 1037.5,688.28 1045.5,686.17 1053.5,684.06 1061.5,681.50 1069.5,677.72 1077.5,673.39 1085.5,669.17 1093.5,665.83 1101.5,663.06 1109.5,660.72 1117.5,657.72 1125.5,654.83 1133.5,652.28 1141.5,650.50 1149.5,649.72 1157.5,649.17 1165.5,648.83 1173.5,649.06 1181.5,649.83 1189.5,651.83 1197.5,654.50 1205.5,658.17 1213.5,662.83 1221.5,667.83" fill="none" stroke="#ff0000" stroke-width="3" stroke-linejoin="round" stroke-linecap="butt" clip-path="url(#c2)" shape-rendering="crispEdges"/>
<g shape-rendering="crispEdges" fill="#000">
<rect x="4" y="4" width="1539" height="1"/>
<rect x="4" y="4" width="1" height="701"/>
<rect x="1542" y="4" width="1" height="701"/>
<rect x="4" y="559" width="1539" height="1"/>
<rect x="4" y="560" width="1539" height="1" fill="#fff"/>
<rect x="4" y="561" width="1539" height="1"/>
<rect x="4" y="704" width="1540" height="1"/>
<rect x="1543" y="50" width="2" height="1"/>
<rect x="1543" y="99" width="2" height="1"/>
<rect x="1543" y="148" width="2" height="1"/>
<rect x="1543" y="197" width="2" height="1"/>
<rect x="1543" y="246" width="2" height="1"/>
<rect x="1543" y="295" width="2" height="1"/>
<rect x="1543" y="344" width="2" height="1"/>
<rect x="1543" y="393" width="2" height="1"/>
<rect x="1543" y="442" width="2" height="1"/>
<rect x="1543" y="491" width="2" height="1"/>
<rect x="1543" y="540" width="2" height="1"/>
<rect x="1543" y="563" width="1" height="1"/>
<rect x="1543" y="604" width="1" height="1"/>
<rect x="1543" y="703" width="1" height="1"/>
<rect x="5" y="705" width="1" height="3"/>
<rect x="101" y="705" width="1" height="3"/>
<rect x="197" y="705" width="1" height="3"/>
<rect x="293" y="705" width="1" height="3"/>
<rect x="389" y="705" width="1" height="3"/>
<rect x="485" y="705" width="1" height="3"/>
<rect x="581" y="705" width="1" height="3"/>
<rect x="677" y="705" width="1" height="3"/>
<rect x="773" y="705" width="1" height="3"/>
<rect x="869" y="705" width="1" height="3"/>
<rect x="965" y="705" width="1" height="3"/>
<rect x="1061" y="705" width="1" height="3"/>
<rect x="1157" y="705" width="1" height="3"/>
</g>
<rect x="5" y="478" width="1539" height="4" fill="#ffa500" shape-rendering="crispEdges"/>
<polygon points="1227.8,5 1239.4,5 1233.6,11.1" fill="#778899"/>
<polygon points="8,12 17.5,12 12.75,17" fill="#000"/>
<line x1="1214.7" y1="487.3" x2="1266" y2="570" stroke="#ff0000" stroke-width="6" stroke-linecap="round"/>
<polygon points="1255.1,574.2 1274.9,562.2 1283.5,598.5" fill="#ff0000"/>
<rect x="1544" y="474" width="49" height="14" fill="#ffa500" shape-rendering="crispEdges"/>
<rect x="1544" y="528" width="49" height="14" fill="#000" shape-rendering="crispEdges"/>
<defs><filter id="sh" x="-100%" y="-20%" width="300%" height="140%"><feGaussianBlur stdDeviation="2.2"/></filter>
<pattern id="st" x="1588" y="636" width="10" height="5" patternUnits="userSpaceOnUse"><rect x="0" y="0" width="10" height="5" fill="#646464"/><rect x="1" y="0" width="8" height="1.1" fill="#ffa31a"/><rect x="1" y="2" width="8" height="2" fill="#ffa31a"/></pattern></defs>
<rect x="1587" y="625" width="12" height="72" rx="5" fill="#000" opacity="0.13" filter="url(#sh)"/>
<rect x="1590.3" y="623.2" width="5.2" height="3" fill="#7a7a7a"/>
<rect x="1590.3" y="692" width="5.2" height="2.8" fill="#7a7a7a"/>
<rect x="1588" y="624.6" width="10" height="68.6" rx="2" fill="#646464"/>
<rect x="1588" y="636" width="10" height="56.4" fill="url(#st)"/>
</svg>
<div class="t" style="left:22.7px;top:7.5px;color:#000;"><span style="letter-spacing:-0.67px">CH</span><span style="letter-spacing:1.2px">I</span><span style="letter-spacing:-0.67px">N</span><span style="letter-spacing:0px">A</span><span style="letter-spacing:0.33px">300</span><span style="letter-spacing:0px">-</span><span style="letter-spacing:0.5px">,</span><span style="letter-spacing:-0.67px">H</span><span style="letter-spacing:0.33px">1</span></div>
<div class="t" style="left:109.8px;top:7.5px;color:#000;"><span style="letter-spacing:0.33px">3715</span><span style="letter-spacing:0.67px">.</span><span style="letter-spacing:0.33px">7</span></div>
<div class="t" style="left:152.9px;top:7.5px;color:#000;"><span style="letter-spacing:0.33px">3722</span><span style="letter-spacing:0.67px">.</span><span style="letter-spacing:0.33px">2</span></div>
<div class="t" style="left:195.8px;top:7.5px;color:#000;"><span style="letter-spacing:0.33px">3714</span><span style="letter-spacing:0.67px">.</span><span style="letter-spacing:0.33px">9</span></div>
<div class="t" style="left:238.8px;top:7.5px;color:#000;"><span style="letter-spacing:0.33px">3721</span><span style="letter-spacing:0.67px">.</span><span style="letter-spacing:0.33px">7</span></div>
<div class="t" style="left:8.7px;top:565.5px;color:#000;"><span style="letter-spacing:-1px">M</span><span style="letter-spacing:0px">A</span><span style="letter-spacing:-0.67px">CD</span><span style="letter-spacing:1px">(</span><span style="letter-spacing:0.33px">12</span><span style="letter-spacing:0.5px">,</span><span style="letter-spacing:0.33px">26</span><span style="letter-spacing:0.5px">,</span><span style="letter-spacing:0.33px">9</span><span style="letter-spacing:1px">)</span></div>
<div class="t" style="left:98.2px;top:565.5px;color:#000;"><span style="letter-spacing:0px">-</span><span style="letter-spacing:0.33px">41</span><span style="letter-spacing:0.67px">.</span><span style="letter-spacing:0.33px">35</span></div>
<div class="t" style="left:138.5px;top:565.5px;color:#000;"><span style="letter-spacing:0px">-</span><span style="letter-spacing:0.33px">29</span><span style="letter-spacing:0.67px">.</span><span style="letter-spacing:0.33px">71</span></div>
<div class="t" style="left:1548.9px;top:43.5px;color:#000;"><span style="letter-spacing:0.33px">4209</span><span style="letter-spacing:0.67px">.</span><span style="letter-spacing:0.33px">0</span></div>
<div class="t" style="left:1548.9px;top:92.5px;color:#000;"><span style="letter-spacing:0.33px">4160</span><span style="letter-spacing:0.67px">.</span><span style="letter-spacing:0.33px">0</span></div>
<div class="t" style="left:1548.9px;top:141.5px;color:#000;"><span style="letter-spacing:0.33px">4111</span><span style="letter-spacing:0.67px">.</span><span style="letter-spacing:0.33px">0</span></div>
<div class="t" style="left:1548.9px;top:190.5px;color:#000;"><span style="letter-spacing:0.33px">4061</span><span style="letter-spacing:0.67px">.</span><span style="letter-spacing:0.33px">0</span></div>
<div class="t" style="left:1548.9px;top:239.5px;color:#000;"><span style="letter-spacing:0.33px">4012</span><span style="letter-spacing:0.67px">.</span><span style="letter-spacing:0.33px">0</span></div>
<div class="t" style="left:1548.9px;top:288.5px;color:#000;"><span style="letter-spacing:0.33px">3963</span><span style="letter-spacing:0.67px">.</span><span style="letter-spacing:0.33px">0</span></div>
<div class="t" style="left:1548.9px;top:337.5px;color:#000;"><span style="letter-spacing:0.33px">3914</span><span style="letter-spacing:0.67px">.</span><span style="letter-spacing:0.33px">0</span></div>
<div class="t" style="left:1548.9px;top:386.5px;color:#000;"><span style="letter-spacing:0.33px">3864</span><span style="letter-spacing:0.67px">.</span><span style="letter-spacing:0.33px">0</span></div>
<div class="t" style="left:1548.9px;top:435.5px;color:#000;"><span style="letter-spacing:0.33px">3815</span><span style="letter-spacing:0.67px">.</span><span style="letter-spacing:0.33px">0</span></div>
<div class="t" style="left:1548.9px;top:484.5px;color:#000;"><span style="letter-spacing:0.33px">3766</span><span style="letter-spacing:0.67px">.</span><span style="letter-spacing:0.33px">0</span></div>
<div class="t" style="left:1548.9px;top:533.5px;color:#000;"><span style="letter-spacing:0.33px">3717</span><span style="letter-spacing:0.67px">.</span><span style="letter-spacing:0.33px">0</span></div>
<div style="position:absolute;left:1544px;top:474px;width:49px;height:14px;background:#ffa500;"></div>
<div style="position:absolute;left:1544px;top:528px;width:49px;height:14px;background:#000;"></div>
<div class="t" style="left:1548.9px;top:474.5px;color:#fff;"><span style="letter-spacing:0.33px">3777</span><span style="letter-spacing:0.67px">.</span><span style="letter-spacing:0.33px">3</span></div>
<div class="t" style="left:1548.9px;top:528.5px;color:#fff;"><span style="letter-spacing:0.33px">3721</span><span style="letter-spacing:0.67px">.</span><span style="letter-spacing:0.33px">7</span></div>
<div class="t" style="left:1546px;top:563.5px;color:#000;"><span style="letter-spacing:0.33px">19</span><span style="letter-spacing:0.67px">.</span><span style="letter-spacing:0.33px">53</span></div>
<div class="t" style="left:1546px;top:597.5px;color:#000;"><span style="letter-spacing:0.33px">0</span><span style="letter-spacing:0.67px">.</span><span style="letter-spacing:0.33px">00</span></div>
<div class="t" style="left:1546px;top:689.5px;color:#000;"><span style="letter-spacing:0px">-</span><span style="letter-spacing:0.33px">46</span><span style="letter-spacing:0.67px">.</span><span style="letter-spacing:0.33px">38</span></div>
<div class="t" style="left:4.5px;top:708.5px;color:#000;"><span style="letter-spacing:0.33px">10</span><span style="letter-spacing:0.67px">&nbsp;</span><span style="letter-spacing:0px">A</span><span style="letter-spacing:0.33px">ug</span><span style="letter-spacing:0.67px">&nbsp;</span><span style="letter-spacing:0.33px">2022</span></div>
<div class="t" style="left:100.5px;top:708.5px;color:#000;"><span style="letter-spacing:0.33px">15</span><span style="letter-spacing:0.67px">&nbsp;</span><span style="letter-spacing:0px">A</span><span style="letter-spacing:0.33px">ug</span><span style="letter-spacing:0.67px">&nbsp;</span><span style="letter-spacing:0.33px">02</span><span style="letter-spacing:0.67px">:</span><span style="letter-spacing:0.33px">30</span></div>
<div class="t" style="left:196.5px;top:708.5px;color:#000;"><span style="letter-spacing:0.33px">18</span><span style="letter-spacing:0.67px">&nbsp;</span><span style="letter-spacing:0px">A</span><span style="letter-spacing:0.33px">ug</span><span style="letter-spacing:0.67px">&nbsp;</span><span style="letter-spacing:0.33px">02</span><span style="letter-spacing:0.67px">:</span><span style="letter-spacing:0.33px">30</span></div>
<div class="t" style="left:292.5px;top:708.5px;color:#000;"><span style="letter-spacing:0.33px">23</span><span style="letter-spacing:0.67px">&nbsp;</span><span style="letter-spacing:0px">A</span><span style="letter-spacing:0.33px">ug</span><span style="letter-spacing:0.67px">&nbsp;</span><span style="letter-spacing:0.33px">02</span><span style="letter-spacing:0.67px">:</span><span style="letter-spacing:0.33px">30</span></div>
<div class="t" style="left:388.5px;top:708.5px;color:#000;"><span style="letter-spacing:0.33px">26</span><span style="letter-spacing:0.67px">&nbsp;</span><span style="letter-spacing:0px">A</span><span style="letter-spacing:0.33px">ug</span><span style="letter-spacing:0.67px">&nbsp;</span><span style="letter-spacing:0.33px">02</span><span style="letter-spacing:0.67px">:</span><span style="letter-spacing:0.33px">30</span></div>
<div class="t" style="left:484.5px;top:708.5px;color:#000;"><span style="letter-spacing:0.33px">31</span><span style="letter-spacing:0.67px">&nbsp;</span><span style="letter-spacing:0px">A</span><span style="letter-spacing:0.33px">ug</span><span style="letter-spacing:0.67px">&nbsp;</span><span style="letter-spacing:0.33px">02</span><span style="letter-spacing:0.67px">:</span><span style="letter-spacing:0.33px">30</span></div>
<div class="t" style="left:580.5px;top:708.5px;color:#000;"><span style="letter-spacing:0.33px">5</span><span style="letter-spacing:0.67px">&nbsp;</span><span style="letter-spacing:-1px">S</span><span style="letter-spacing:-0.5px">e</span><span style="letter-spacing:0.33px">p</span><span style="letter-spacing:0.67px">&nbsp;</span><span style="letter-spacing:0.33px">02</span><span style="letter-spacing:0.67px">:</span><span style="letter-spacing:0.33px">30</span></div>
<div class="t" style="left:676.5px;top:708.5px;color:#000;"><span style="letter-spacing:0.33px">8</span><span style="letter-spacing:0.67px">&nbsp;</span><span style="letter-spacing:-1px">S</span><span style="letter-spacing:-0.5px">e</span><span style="letter-spacing:0.33px">p</span><span style="letter-spacing:0.67px">&nbsp;</span><span style="letter-spacing:0.33px">02</span><span style="letter-spacing:0.67px">:</span><span style="letter-spacing:0.33px">30</span></div>
<div class="t" style="left:772.5px;top:708.5px;color:#000;"><span style="letter-spacing:0.33px">14</span><span style="letter-spacing:0.67px">&nbsp;</span><span style="letter-spacing:-1px">S</span><span style="letter-spacing:-0.5px">e</span><span style="letter-spacing:0.33px">p</span><span style="letter-spacing:0.67px">&nbsp;</span><span style="letter-spacing:0.33px">02</span><span style="letter-spacing:0.67px">:</span><span style="letter-spacing:0.33px">30</span></div>
<div class="t" style="left:868.5px;top:708.5px;color:#000;"><span style="letter-spacing:0.33px">19</span><span style="letter-spacing:0.67px">&nbsp;</span><span style="letter-spacing:-1px">S</span><span style="letter-spacing:-0.5px">e</span><span style="letter-spacing:0.33px">p</span><span style="letter-spacing:0.67px">&nbsp;</span><span style="letter-spacing:0.33px">02</span><span style="letter-spacing:0.67px">:</span><span style="letter-spacing:0.33px">30</span></div>
<div class="t" style="left:964.5px;top:708.5px;color:#000;"><span style="letter-spacing:0.33px">22</span><span style="letter-spacing:0.67px">&nbsp;</span><span style="letter-spacing:-1px">S</span><span style="letter-spacing:-0.5px">e</span><span style="letter-spacing:0.33px">p</span><span style="letter-spacing:0.67px">&nbsp;</span><span style="letter-spacing:0.33px">02</span><span style="letter-spacing:0.67px">:</span><span style="letter-spacing:0.33px">30</span></div>
<div class="t" style="left:1060.5px;top:708.5px;color:#000;"><span style="letter-spacing:0.33px">27</span><span style="letter-spacing:0.67px">&nbsp;</span><span style="letter-spacing:-1px">S</span><span style="letter-spacing:-0.5px">e</span><span style="letter-spacing:0.33px">p</span><span style="letter-spacing:0.67px">&nbsp;</span><span style="letter-spacing:0.33px">02</span><span style="letter-spacing:0.67px">:</span><span style="letter-spacing:0.33px">30</span></div>
<div class="t" style="left:1156.5px;top:708.5px;color:#000;"><span style="letter-spacing:0.33px">30</span><span style="letter-spacing:0.67px">&nbsp;</span><span style="letter-spacing:-1px">S</span><span style="letter-spacing:-0.5px">e</span><span style="letter-spacing:0.33px">p</span><span style="letter-spacing:0.67px">&nbsp;</span><span style="letter-spacing:0.33px">02</span><span style="letter-spacing:0.67px">:</span><span style="letter-spacing:0.33px">30</span></div>
</body></html>
